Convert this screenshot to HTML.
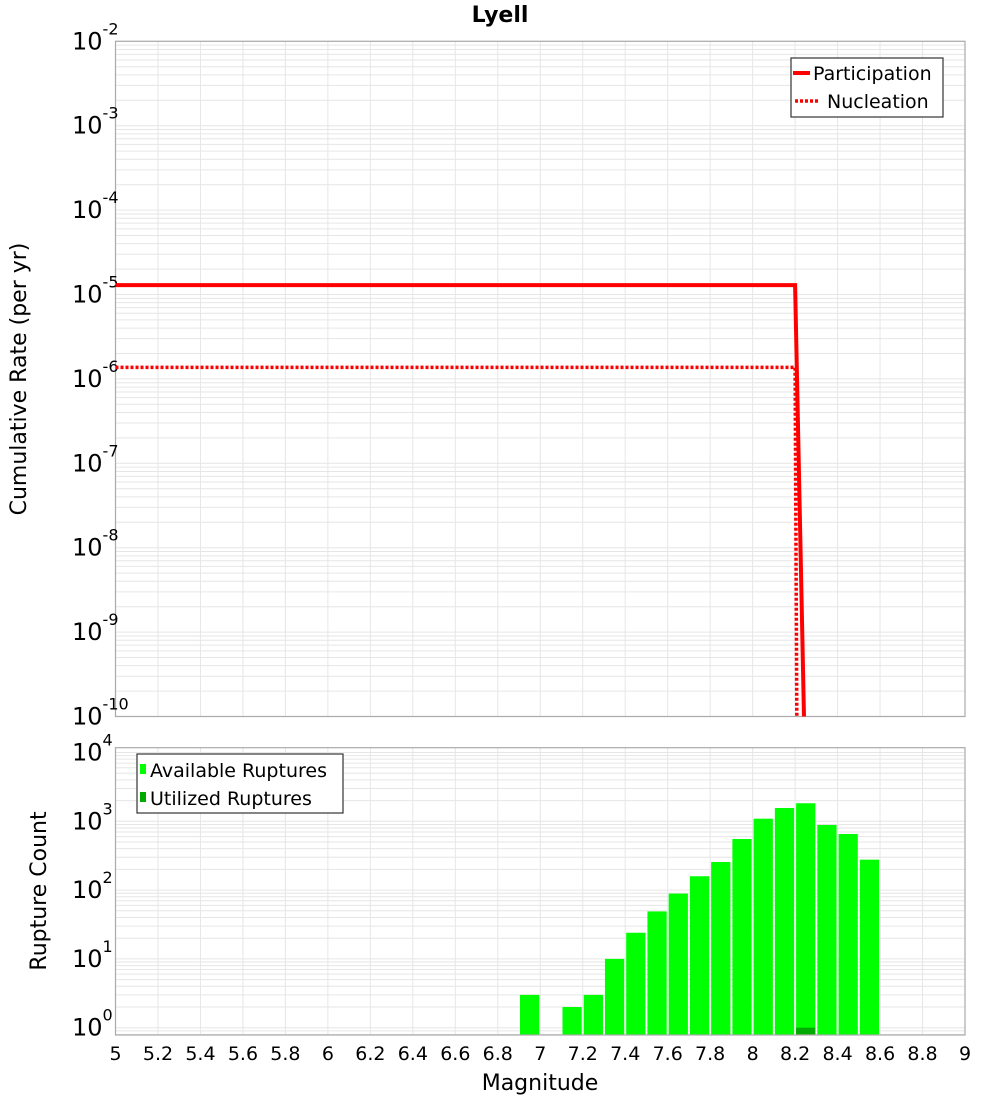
<!DOCTYPE html>
<html><head><meta charset="utf-8"><style>
body{margin:0;background:#fff;}
svg{display:block;font-family:"DejaVu Sans","Liberation Sans",sans-serif;}
</style></head><body>
<svg id="chart" width="1000" height="1100" viewBox="0 0 1000 1100" xmlns="http://www.w3.org/2000/svg">
<text x="500" y="22" text-anchor="middle" font-size="22" font-weight="bold">Lyell</text>
<g id="topplot"></g>
<g id="botplot"></g>
</svg>
<script>
const partMags = [5, 8.2, 8.25];
const partRates = [1.29e-5, 1.29e-5, 1e-11];
const nuclMags = [5, 8.2, 8.21];
const nuclRates = [1.37e-6, 1.37e-6, 1e-11];
const binCenters = [6.95, 7.15, 7.25, 7.35, 7.45, 7.55, 7.65, 7.75, 7.85, 7.95, 8.05, 8.15, 8.25, 8.35, 8.45, 8.55];
const availCounts = [3, 2, 3, 10, 24, 49, 89, 159, 256, 553, 1091, 1560, 1830, 884, 654, 277];
const utilCounts = [0, 0, 0, 0, 0, 0, 0, 0, 0, 0, 0, 0, 1, 0, 0, 0];
const xTicks = ["5","5.2","5.4","5.6","5.8","6","6.2","6.4","6.6","6.8","7","7.2","7.4","7.6","7.8","8","8.2","8.4","8.6","8.8","9"];
const topExps = [-2,-3,-4,-5,-6,-7,-8,-9,-10];
const botExps = [4,3,2,1,0];

const NS='http://www.w3.org/2000/svg';
function mk(parent,tag,attrs,text){const e=document.createElementNS(NS,tag);for(const k in attrs)e.setAttribute(k,attrs[k]);if(text!==undefined)e.textContent=text;parent.appendChild(e);return e;}
const L=115.5,R=965;
const xS=m=>L+(m-5)/(9-5)*(R-L);
const T1=41.3,T2=716.5;
const yT=v=>T1+(-2-Math.log10(v))/8*(T2-T1);
const B1=747.7,B2=1035;
const yB=v=>1027.7-Math.log10(v)*68.8;

function grid(g,y1,y2,yFn,lo,hi){
  for(let e=lo;e<hi;e++)for(let k=1;k<10;k++){const y=yFn(k*Math.pow(10,e));if(y<y1-0.5||y>y2+0.5)continue;
    const l=mk(g,'line',{x1:L,x2:R,y1:y,y2:y,stroke:'#e6e6e6','stroke-width':1});
    
    }
  xTicks.forEach(t=>{const x=xS(+t);const l=mk(g,'line',{x1:x,x2:x,y1:y1,y2:y2,stroke:'#e6e6e6','stroke-width':1});
    
    });
}
function frame(g,y1,y2){const r=mk(g,'rect',{x:L,y:y1,width:R-L,height:y2-y1,fill:'none',stroke:'#aaaaaa','stroke-width':1.2});
  
  }
function ylabel(g,y,exp){const t=mk(g,'text',{x:72,y:y+8,'text-anchor':'start','font-size':24});
  
  
  mk(t,'tspan',{},'10');
  mk(t,'tspan',{dy:-15,'font-size':16},String(exp));}

const topG=document.getElementById('topplot');


grid(topG,T1,T2,yT,-11,-1);
frame(topG,T1,T2);
topExps.forEach(e=>ylabel(topG,yT(Math.pow(10,e)),e));
const clip=mk(topG,'clipPath',{id:'ct'});mk(clip,'rect',{x:L,y:T1,width:R-L,height:T2-T1});
function path(mags,vals,attrs,name){let d='';mags.forEach((m,i)=>{d+=(i?'L':'M')+xS(m).toFixed(2)+','+yT(vals[i]).toFixed(2);});
  const p=mk(topG,'path',Object.assign({d:d,fill:'none','clip-path':'url(#ct)'},attrs));
  
  }
path(nuclMags,nuclRates,{stroke:'#ff0000','stroke-width':3.5,'stroke-dasharray':'3,2'},'nucleation-line');
path(partMags,partRates,{stroke:'#ff0000','stroke-width':4},'participation-line');
const yt=mk(topG,'text',{transform:'translate(26,379) rotate(-90)','text-anchor':'middle','font-size':22},'Cumulative Rate (per yr)');


const lg=mk(topG,'g',{});


mk(lg,'rect',{x:791,y:58,width:152,height:59,fill:'#fff',stroke:'#333','stroke-width':1.2});
mk(lg,'line',{x1:793,x2:810,y1:73,y2:73,stroke:'#f00','stroke-width':4});
mk(lg,'text',{x:813,y:80,'font-size':19},'Participation');
mk(lg,'line',{x1:795,x2:820,y1:101,y2:101,stroke:'#f00','stroke-width':3.5,'stroke-dasharray':'3,2'});
mk(lg,'text',{x:827,y:108,'font-size':19},'Nucleation');

const botG=document.getElementById('botplot');


grid(botG,B1,B2,yB,-1,5);
const bw=(xS(5.1)-xS(5))-2;
binCenters.forEach((c,i)=>{
  if(availCounts[i]>0){const y=yB(availCounts[i]);const r=mk(botG,'rect',{x:xS(c)-bw/2,y:y,width:bw,height:B2-y,fill:'#00ff00'});
    
    }
  if(utilCounts[i]>0){const y=yB(utilCounts[i]);const r=mk(botG,'rect',{x:xS(c)-bw/2,y:y,width:bw,height:B2-y,fill:'#00aa00'});
    
    }
});
frame(botG,B1,B2);
botExps.forEach(e=>ylabel(botG,yB(Math.pow(10,e)),e));
xTicks.forEach(t=>{const x=mk(botG,'text',{x:xS(+t),y:1060,'text-anchor':'middle','font-size':19},t);
  
  });
const xt=mk(botG,'text',{x:540,y:1090,'text-anchor':'middle','font-size':22},'Magnitude');


const yb=mk(botG,'text',{transform:'translate(46,891) rotate(-90)','text-anchor':'middle','font-size':22},'Rupture Count');


const lb=mk(botG,'g',{});


mk(lb,'rect',{x:137,y:754,width:206,height:59,fill:'#fff',stroke:'#333','stroke-width':1.2});
mk(lb,'rect',{x:140,y:764,width:6,height:10,fill:'#00ff00'});
mk(lb,'text',{x:150,y:777,'font-size':19},'Available Ruptures');
mk(lb,'rect',{x:140,y:792,width:6,height:10,fill:'#00aa00'});
mk(lb,'text',{x:150,y:805,'font-size':19},'Utilized Ruptures');
</script>
</body></html>
